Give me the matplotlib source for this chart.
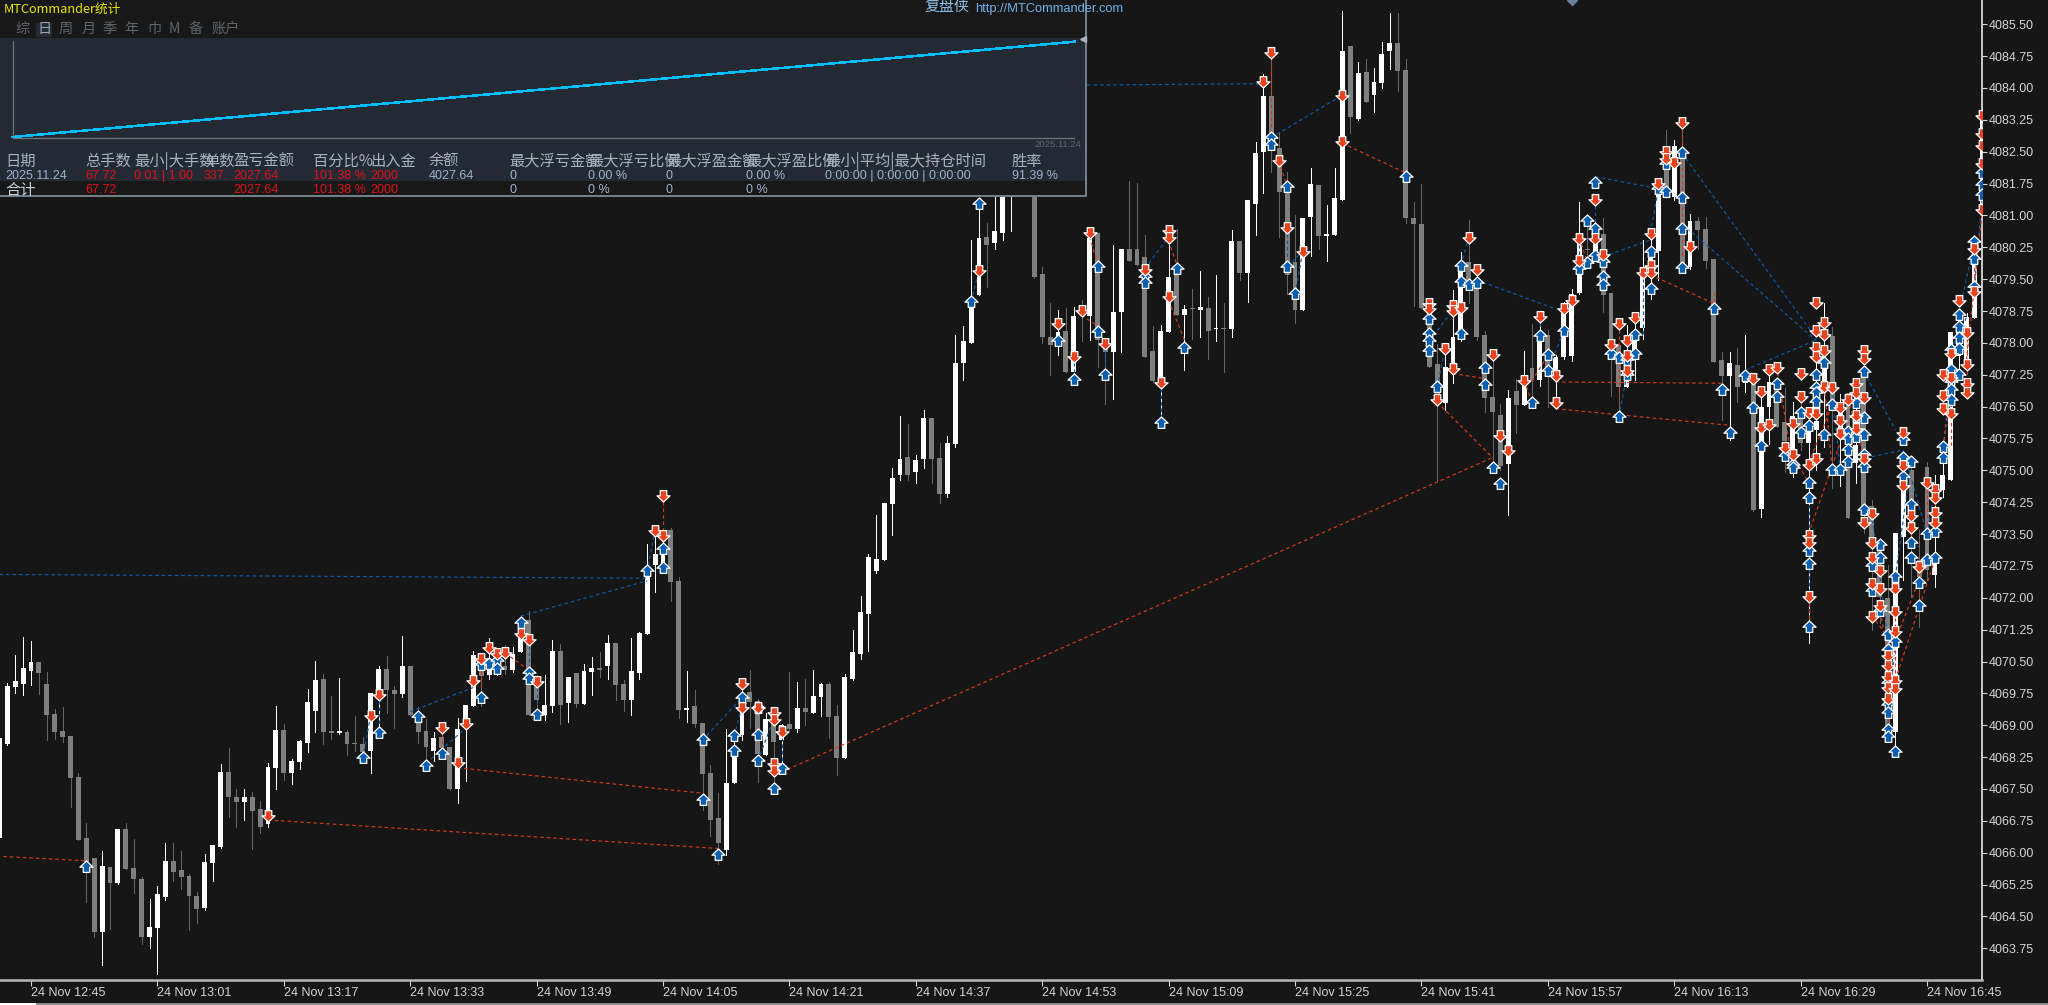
import matplotlib
matplotlib.use("Agg")
import matplotlib.pyplot as plt
from matplotlib.path import Path
from matplotlib.patches import Rectangle

# prices are stored above this base
base = 4000
first_bar = -4

opens = [66.34,68.57,69.89,69.97,70.28,70.48,69.97,69.27,68.87,68.75,
67.79,66.35,65.87,64.14,65.67,65.28,66.56,65.64,65.39,64.02,
64.23,64.95,65.80,65.59,65.46,64.99,64.69,65.76,66.14,67.89,
67.32,67.20,67.32,67.04,66.67,68.00,68.89,67.88,68.13,68.59,
69.34,70.08,68.86,68.81,68.84,68.57,68.57,68.39,69.63,70.32,
69.83,69.74,70.40,69.20,68.87,68.40,68.72,68.48,67.50,69.00,
69.45,70.30,70.18,70.34,70.39,70.30,70.73,71.47,70.06,69.24,
69.45,70.75,69.53,70.22,69.50,70.25,70.32,70.39,70.94,69.97,
69.59,70.24,71.15,72.77,72.77,73.60,72.40,69.36,69.45,69.06,
67.88,66.81,66.06,67.63,68.77,69.79,69.58,68.30,69.12,68.65,
69.03,68.90,69.41,69.30,69.67,69.97,69.22,68.22,70.09,70.68,
71.63,72.64,72.89,74.20,74.90,75.31,74.95,75.27,76.23,75.29,
74.44,75.63,77.52,78.00,79.13,80.50,80.34,80.58,81.44,81.60,
82.30,81.90,79.61,78.14,77.99,78.28,77.32,78.77,78.64,80.58,
77.99,77.79,78.72,80.22,80.22,80.03,77.81,77.08,78.26,79.60,
78.65,78.81,78.77,78.83,78.32,78.36,78.32,80.40,79.64,81.28,
82.50,83.82,82.58,81.56,79.91,78.77,80.97,81.72,80.52,80.54,
81.36,84.99,83.28,84.37,83.83,84.12,84.87,85.05,84.42,80.93,
80.79,78.77,77.51,76.59,77.44,78.10,79.91,79.44,78.18,76.73,
76.30,75.15,76.87,76.53,77.40,77.12,78.18,77.36,77.66,77.69,
79.18,80.22,80.10,80.57,79.18,77.95,76.96,77.67,78.36,79.79,
80.16,82.54,81.44,82.46,79.79,80.87,80.68,79.97,77.60,77.22,
77.48,77.05,77.09,74.10,76.48,76.97,76.13,75.40,76.23,75.64,
75.95,77.05,78.15,76.00,76.81,75.17,77.36,74.15,73.13,72.00,
68.85,73.44,75.01,72.90,75.09,72.54,74.54,74.77,77.70,77.60,
78.58,81.10]
highs = [68.75,69.99,70.65,71.07,70.99,70.48,70.25,69.38,69.42,68.75,
67.88,66.71,65.87,66.04,65.67,66.56,66.71,66.32,65.43,64.90,
65.22,66.24,66.24,66.04,65.50,65.08,65.98,66.18,68.09,68.46,
67.49,67.50,67.44,67.22,68.10,69.45,69.03,68.20,68.65,69.85,
70.51,70.20,69.69,70.11,68.89,69.22,68.72,69.75,70.40,70.64,
69.92,71.10,70.40,69.44,69.14,68.83,69.05,68.48,69.17,69.48,
70.75,70.69,71.06,70.81,70.88,70.83,71.49,71.69,70.18,70.18,
71.00,70.91,70.13,70.24,70.43,70.60,70.73,71.12,70.94,70.06,
71.06,71.20,73.27,73.71,73.60,73.64,72.48,70.28,69.83,69.06,
68.06,67.41,68.90,68.81,70.06,70.30,69.61,69.28,69.28,69.04,
70.26,70.02,70.09,70.30,69.99,70.02,69.47,70.20,71.24,72.04,
73.03,73.95,74.24,75.05,76.27,76.08,75.36,76.42,76.23,75.64,
75.80,78.18,78.40,80.42,81.40,80.83,81.44,81.46,81.60,82.50,
82.80,82.20,79.79,78.93,78.77,78.81,78.85,79.01,80.69,80.58,
78.07,80.30,80.22,81.82,81.76,80.54,78.40,78.42,80.70,80.67,
78.89,79.26,79.70,79.09,79.60,78.95,80.66,80.40,81.36,82.73,
84.34,84.89,82.93,82.03,81.01,80.93,82.11,81.72,81.24,82.11,
85.80,84.99,84.60,84.67,84.46,85.07,85.77,85.77,84.67,81.31,
81.73,79.04,77.98,77.90,79.24,80.14,80.89,79.79,78.27,77.73,
76.56,76.89,77.16,77.80,78.44,78.49,78.30,77.71,78.97,79.26,
81.32,81.00,80.89,80.95,79.18,77.95,78.42,78.69,80.43,80.65,
81.79,83.02,82.77,83.28,81.03,80.97,80.97,79.97,77.79,77.79,
77.89,78.18,77.24,76.97,77.48,77.13,76.93,76.62,76.62,76.15,
77.83,78.93,78.38,76.80,76.81,76.70,77.36,74.30,73.28,72.77,
73.52,75.30,75.25,73.60,75.20,74.90,75.56,78.26,78.60,78.70,
80.50,83.50]
lows = [66.30,68.53,69.77,69.71,69.95,69.74,68.65,68.67,68.61,67.08,
66.30,64.85,64.02,63.35,64.20,65.26,65.62,65.04,63.85,63.76,
63.14,64.88,65.34,65.15,64.18,64.35,64.65,65.34,66.12,66.83,
66.60,66.78,66.08,66.47,66.60,67.51,67.71,67.62,67.97,68.38,
68.83,68.57,68.67,68.79,68.30,68.40,68.18,67.88,68.89,69.30,
68.94,69.67,69.24,68.59,68.18,68.16,68.26,67.48,67.18,67.69,
69.45,69.45,70.08,70.18,70.20,70.26,70.73,69.24,69.12,69.12,
69.31,69.04,69.08,69.42,69.50,69.71,70.13,70.10,69.59,69.34,
69.24,70.08,71.15,72.14,72.58,71.92,69.18,69.08,68.95,67.00,
66.39,65.73,65.94,67.63,68.65,68.93,67.67,68.30,67.63,68.02,
68.88,68.85,69.00,69.28,69.22,68.71,67.83,68.22,70.06,70.57,
70.75,72.58,72.89,73.48,74.77,74.77,74.71,75.05,74.70,74.22,
74.37,75.55,77.12,77.99,79.13,79.32,80.20,80.42,80.64,81.50,
81.70,79.52,78.00,77.24,77.71,77.32,77.12,78.05,78.07,77.44,
76.57,76.68,77.79,79.93,79.83,77.67,77.08,76.14,78.26,78.65,
77.36,78.10,78.13,77.63,78.05,77.32,78.13,79.48,78.97,80.55,
81.52,82.03,80.50,79.16,78.47,78.77,80.04,80.20,79.93,80.54,
81.36,82.93,83.24,83.68,83.44,83.99,84.45,83.93,80.83,78.87,
78.81,77.44,74.75,76.41,77.06,78.05,78.93,78.06,76.38,75.20,
75.00,73.95,75.89,76.53,76.53,76.98,76.48,76.48,77.61,77.58,
79.16,79.79,79.95,78.73,76.74,76.30,76.96,77.12,78.10,79.04,
79.49,81.40,81.36,79.67,79.73,80.22,79.76,77.56,76.18,75.71,
76.62,76.85,74.05,73.91,75.62,76.01,74.97,74.84,75.48,70.94,
75.01,75.56,74.58,74.62,73.87,74.71,73.52,71.25,71.40,68.70,
68.50,72.42,72.03,71.32,72.42,72.26,74.38,74.77,77.20,77.44,
78.58,81.00]
closes = [68.69,69.92,70.04,70.34,70.48,70.22,69.24,68.83,68.72,67.77,
66.31,65.79,64.14,65.69,65.28,66.56,65.62,65.37,64.02,64.24,
65.02,65.80,65.55,65.43,64.98,64.67,65.78,66.18,67.89,67.32,
67.20,67.32,66.99,66.61,68.02,68.89,67.88,68.16,68.62,69.55,
70.06,68.83,68.81,68.86,68.56,68.55,68.38,69.75,70.32,69.83,
69.74,70.40,69.24,68.83,68.48,68.71,68.46,67.49,68.92,69.48,
70.66,70.15,70.53,70.57,70.30,70.67,71.40,69.24,69.59,69.47,
70.75,69.47,70.13,69.50,70.27,70.34,70.30,70.94,69.95,69.59,
70.27,71.18,72.58,73.03,73.12,72.36,69.36,69.40,69.04,67.85,
66.78,66.22,67.65,68.26,69.44,69.55,68.32,69.14,68.61,69.00,
68.90,69.41,69.32,69.69,69.97,69.20,68.22,70.13,70.73,71.66,
72.97,72.91,74.22,74.82,75.27,74.90,75.24,76.23,75.27,74.44,
75.65,77.52,78.05,78.85,80.48,80.30,80.63,81.44,81.50,82.30,
81.90,79.56,78.13,77.95,78.26,77.32,78.63,78.69,80.48,78.07,
77.79,78.72,80.20,79.93,79.83,77.67,77.11,78.28,79.54,78.65,
78.79,78.79,78.85,78.29,78.36,78.32,80.40,79.64,81.36,82.47,
83.82,82.62,81.54,79.59,78.77,80.93,81.73,80.52,80.55,81.40,
84.88,83.32,84.36,83.68,84.13,84.79,85.05,84.41,80.93,80.79,
78.83,77.44,76.61,77.44,78.14,79.71,79.24,78.14,76.71,76.38,
75.10,76.71,76.53,77.12,77.12,78.06,77.32,77.67,78.81,79.16,
80.34,80.18,80.65,79.12,77.75,76.96,77.47,78.22,79.71,80.10,
81.63,81.52,82.63,79.79,80.87,80.65,79.93,77.56,77.22,77.52,
76.95,77.24,74.06,76.50,77.09,76.01,75.68,76.28,75.64,75.91,
76.15,77.44,76.62,76.40,73.87,75.60,73.99,73.28,72.03,68.90,
73.52,74.54,73.68,72.50,72.66,72.81,74.89,78.26,78.30,78.62,
80.40,83.40]

buy_bars = [7,42,44,49,50,52,57,57,58,59,59,62,63,63,64,78,80,80,85,85,87,89,89,90,92,92,92,94,95,
120,119,130,132,135,135,136,141,141,143,145,146,159,159,160,157,157,
174,177,177,177,177,178,181,181,181,182,183,184,184,185,186,190,191,192,192,194,196,197,197,198,198,198,
199,199,199,200,201,201,202,202,203,203,205,205,206,207,207,209,209,209,209,
213,214,215,217,218,219,221,221,222,223,223,224,224,225,225,225,226,226,226,226,227,227,228,228,229,
230,230,230,230,231,231,231,232,232,232,232,232,232,234,237,237,237,238,238,238,240,241,242,242,
243,243,243,243,243,244,244,244,244,244,246,246,246,247,247,247,
225,225,225,233,233,234,234,235,235,235,235,235,235,235,236,236,236,238,239,239,240,241]
buy_prices = [65.67,68.24,68.81,69.20,68.03,68.32,69.65,70.41,70.44,70.52,70.32,71.40,70.22,70.10,69.24,72.64,73.15,72.69,68.65,67.24,65.94,68.75,68.39,69.65,68.77,68.16,69.40,67.50,67.96,
81.28,78.97,78.05,77.12,79.79,78.26,77.24,79.56,79.40,76.12,79.74,77.89,81.66,79.79,79.15,82.83,82.66,
81.91,78.56,78.20,78.05,77.80,76.96,79.81,79.44,78.22,79.36,79.40,77.40,77.00,75.05,74.67,76.59,78.16,77.71,77.33,78.27,79.75,80.87,79.89,81.77,80.67,80.04,
79.91,79.55,79.36,77.73,77.65,76.26,77.59,77.24,78.18,77.73,80.14,79.26,81.63,82.21,81.56,82.46,81.40,80.69,79.77,
78.79,76.89,75.89,77.22,76.46,75.57,77.03,76.72,75.34,75.12,75.05,76.34,75.87,76.04,74.71,74.34,77.24,76.93,76.81,76.62,77.52,75.83,76.54,75.01,75.01,
75.91,75.73,75.48,75.20,76.58,76.26,75.79,77.32,76.22,75.83,75.36,75.08,74.06,73.24,75.71,75.28,74.85,75.20,74.18,73.28,73.50,73.55,75.56,75.28,
77.83,77.36,77.09,76.89,76.65,78.66,78.38,78.11,77.85,77.24,80.38,79.97,79.32,82.00,81.72,81.48,
73.09,72.80,71.32,72.74,72.15,72.93,71.68,71.13,70.77,69.99,69.48,69.28,68.89,68.73,72.50,70.97,68.38,72.93,72.35,71.80,72.89,72.93]

sell_bars = [30,43,44,52,54,55,56,57,58,59,60,62,63,64,79,80,80,90,90,92,94,94,95,94,94,
120,130,133,132,134,136,141,143,144,144,144,158,159,161,156,157,166,166,
177,177,178,179,180,180,180,181,182,183,185,186,187,189,191,193,193,194,195,196,196,198,198,199,200,201,202,202,202,203,204,205,205,205,206,207,207,208,209,210,
218,219,219,220,220,221,222,223,223,224,224,225,225,225,225,226,226,226,226,226,227,227,227,227,226,228,229,229,229,230,231,231,231,231,232,232,232,232,232,233,233,237,237,237,238,238,240,241,241,241,241,242,242,242,243,243,243,244,245,245,245,245,246,246,247,247,247,247,247,
225,233,233,233,234,234,234,235,235,235,235,235,236,236,236,236,236,239]
sell_prices = [66.89,69.24,69.73,68.97,68.14,69.05,70.06,70.59,70.83,70.71,70.73,71.18,71.04,70.05,73.60,74.42,73.48,70.00,69.44,69.44,69.32,69.14,68.87,68.12,67.94,
79.71,78.46,78.77,77.69,80.62,78.00,79.75,77.08,80.66,80.50,79.10,82.30,80.72,80.17,84.17,84.84,83.83,82.75,
78.93,78.81,76.69,77.87,78.89,78.77,77.40,78.85,80.50,79.75,77.73,75.84,75.47,77.12,78.63,77.24,76.61,78.83,79.00,80.48,79.95,81.38,80.46,80.10,77.98,78.46,78.06,77.71,77.36,78.61,79.67,80.59,79.83,79.67,81.77,82.52,82.34,82.25,83.20,80.28,
77.17,76.87,76.01,77.38,76.09,77.44,75.54,76.11,75.38,77.28,76.75,76.38,75.16,73.48,73.32,78.97,78.30,77.91,77.68,76.36,78.50,78.22,77.83,76.98,75.28,76.95,76.50,76.18,75.87,76.69,77.05,76.85,76.30,75.99,77.83,77.64,76.72,75.30,73.79,73.99,73.32,75.91,75.12,74.65,73.95,73.67,74.73,74.57,74.38,74.03,73.79,77.27,76.77,76.46,77.75,77.20,76.36,79.01,78.26,77.50,77.05,76.85,80.23,79.21,83.37,82.93,82.66,82.23,81.15,
72.05,72.97,72.35,71.58,72.66,72.23,71.83,70.66,70.42,70.15,69.91,69.65,72.23,71.68,71.21,70.07,69.87,72.74]

# bar0, price0, bar1, price1
blue_links = [(-4,72.55,78,72.46),(62,71.57,78,72.40),(100,84.02,156,84.10),(157,82.83,166,83.83),
(183,79.48,194,78.73),(198,81.91,206,81.63),(199,80.03,205,80.42),(209,82.46,226,78.10),(209,80.80,226,78.05),
(217,77.36,226,78.07),(232,77.32,236,75.95),(233,75.32,237,75.48),(237,75.48,240,73.50),(42,68.24,43,69.24),
(44,69.73,44,68.81),(48,69.32,56,69.89),(50,68.10,55,68.93),(79,73.60,78,72.64),(85,68.65,90,69.65),
(89,68.75,90,69.44),(92,68.16,94,69.14),(95,68.87,95,67.96),(64,70.05,64,69.24),(63,71.04,63,70.22),
(119,78.97,120,79.71),(143,77.08,143,76.12),(136,78.00,136,77.24),(132,77.69,132,77.12),(141,79.75,144,80.50),
(159,79.79,161,80.17),(159,80.72,159,79.79),(160,79.15,161,80.17),(182,80.50,181,79.81),(178,76.96,179,77.87),
(177,78.05,180,78.77),(191,78.63,191,78.16),(192,77.33,194,78.27),(196,80.48,196,79.75),(198,81.38,198,80.67),
(201,76.26,202,77.24),(204,79.67,204,78.20),(205,80.59,206,81.63),(207,82.21,208,82.25),(225,74.34,225,71.32),
(236,72.50,238,75.20),(238,73.28,239,73.20),(240,73.50,241,74.60),(243,77.83,245,78.60),(246,79.32,247,81.48),
(242,75.56,243,76.65),(244,78.66,246,80.38),(235,68.89,236,71.0),(233,73.99,235,71.13),(229,75.01,228,76.95)]
red_links = [(-3.5,65.91,7,65.81),(30,66.77,87,66.10),(54,68.00,85,67.40),(95,67.90,185,75.30),(166,82.70,174,82.00),
(178,76.60,185,75.30),(180,77.28,184,77.16),(193,77.08,214,77.05),(193,76.45,215,76.06),(205,79.60,213,78.93),
(134,80.50,135,79.87),(133,78.65,135,78.40),(144,80.40,145,79.87),(144,79.00,146,78.07),(60,70.70,63,70.30),
(225,73.50,229,75.64),(236,70.07,241,72.90),(236,71.00,240,72.89),(245,77.60,247,81.10),(242,75.40,243,77.20),
(80,74.42,80,73.48),(157,84.84,157,82.83),(158,82.30,159,81.66),(52,68.97,52,68.32),(57,70.59,57,69.65),
(209,83.20,209,80.00),(201,78.46,201,76.60),(225,72.05,225,71.32),(225,73.30,225,72.80),(190,77.10,192,77.71),
(189,77.12,190,76.59),(196,80.48,197,79.89),(233,71.58,235,71.10),(238,73.95,238,73.28),(239,72.74,239,71.80),
(230,76.69,232,75.30),(227,76.98,228,75.01),(221,77.44,223,75.12),(223,75.38,225,74.71),(225,75.16,228,76.54),
(234,71.83,235,70.66),(235,69.65,235,68.90),(236,71.68,236,70.07),(240,74.73,240,73.50),(241,74.57,241,73.55),
(243,77.20,243,75.60),(246,80.23,246,79.21),(245,78.26,245,77.05),(213,79.20,213,78.79)]

price_ticks = [4063.75,4064.50,4065.25,4066.00,4066.75,4067.50,4068.25,4069.00,4069.75,4070.50,
4071.25,4072.00,4072.75,4073.50,4074.25,4075.00,4075.75,4076.50,4077.25,4078.00,
4078.75,4079.50,4080.25,4081.00,4081.75,4082.50,4083.25,4084.00,4084.75,4085.50]
time_ticks = [0,16,32,48,64,80,96,112,128,144,160,176,192,208,224,240]
time_labels = ["24 Nov 12:45","24 Nov 13:01","24 Nov 13:17","24 Nov 13:33","24 Nov 13:49","24 Nov 14:05",
"24 Nov 14:21","24 Nov 14:37","24 Nov 14:53","24 Nov 15:09","24 Nov 15:25","24 Nov 15:41",
"24 Nov 15:57","24 Nov 16:13","24 Nov 16:29","24 Nov 16:45"]

equity_x = [0, 1]
equity_y = [2000, 4027.64]

# panel table
header_x = [5,85,134,204,233,313,370,429,509,588,666,746,825,1012]
headers = ["日期","总手数","最小|大手数","单数","盈亏金额","百分比%","出入金","余额","最大浮亏金额","最大浮亏比例","最大浮盈金额","最大浮盈比例","最小|平均|最大持仓时间","胜率"]
row1 = ["2025.11.24","67.72","0.01 | 1.00","337","2027.64","101.38 %","2000","4027.64","0","0.00 %","0","0.00 %","0:00:00 | 0:00:00 | 0:00:00","91.39 %"]
row2 = ["合计","67.72","","","2027.64","101.38 %","2000","","0","0 %","0","0 %","",""]
red_cols = [1,2,3,4,5,6]
tabs = ["综","日","周","月","季","年","巾","M","备","账户"]
tabs_x = [15,38,59,82,102,124,147,169,189,212]

bg = "#161616"
cjk = ["Noto Sans CJK SC", "Liberation Sans"]
plt.rcParams["font.family"] = ["Liberation Sans", "Noto Sans CJK SC"]

fig = plt.figure(figsize=(20.48, 10.05), dpi=100, facecolor=bg)
ax = fig.add_axes([0, 25/1005, 1982/2048, 980/1005], facecolor=bg)

bars = [first_bar + i for i in range(len(opens))]
for i, k in enumerate(bars):
    up = closes[i] >= opens[i]
    col = "#ffffff" if up else "#7f7f7f"
    wick = "#ffffff" if up else "#666666"
    ax.vlines(k, base + lows[i], base + highs[i], color=wick, lw=0.7, zorder=2, antialiased=False)
    ax.bar(k, max(abs(closes[i] - opens[i]), 0.04), bottom=base + min(opens[i], closes[i]),
           width=0.62, color=col, zorder=3, antialiased=False)

for links, c in ((blue_links, "#0f5aa8"), (red_links, "#d63a1c")):
    for x0, y0, x1, y1 in links:
        ax.plot([x0, x1], [base + y0, base + y1], color=c, lw=0.85, ls=(0, (3, 2.5)), zorder=4)

arrow_up = Path([(0,1),(1,0.05),(0.5,0.05),(0.5,-0.75),(-0.5,-0.75),(-0.5,0.05),(-1,0.05),(0,1)], closed=True)
arrow_down = Path([(0,-1),(1,-0.05),(0.5,-0.05),(0.5,0.75),(-0.5,0.75),(-0.5,-0.05),(-1,-0.05),(0,-1)], closed=True)
ax.plot(buy_bars, [base + p for p in buy_prices], ls="", marker=arrow_up, ms=9.4, mfc="#0b5fb0", mec="white", mew=0.9, zorder=5)
ax.plot(sell_bars, [base + p for p in sell_prices], ls="", marker=arrow_down, ms=9.4, mfc="#e8431f", mec="white", mew=0.9, zorder=5)
ax.plot([195], [4086.07], ls="", marker="D", ms=5, mfc="#66809c", mec="#66809c", zorder=5)

ax.set_xlim(-31/7.9, (1982-31)/7.9)
ax.set_ylim(4063.004, 4086.07)
for s in ("top", "left"):
    ax.spines[s].set_visible(False)
ax.spines["right"].set_color("#e8e8e8")
ax.spines["right"].set_linewidth(1.2)
ax.spines["bottom"].set_color("#b8b8b8")
ax.spines["bottom"].set_linewidth(1.8)
ax.yaxis.tick_right()
ax.set_yticks(price_ticks, ["%.2f" % p for p in price_ticks])
ax.set_xticks(time_ticks, time_labels, ha="left")
ax.tick_params(axis="y", length=3.5, width=0.8, color="#d8d8d8", labelcolor="#d4d4d4", labelsize=9, pad=1)
ax.tick_params(axis="x", length=4, width=0.8, color="#d8d8d8", labelcolor="#d4d4d4", labelsize=9, pad=1)

# overlay panel, drawn in screen pixels
ov = fig.add_axes([0, 0, 1, 1], facecolor="none", zorder=10)
ov.set_xlim(0, 2048)
ov.set_ylim(1005, 0)
ov.axis("off")
ov.add_patch(Rectangle((0, 0), 1086, 196, fc="#181818", ec="none"))
ov.add_patch(Rectangle((0, 38), 1086, 143, fc="#232a33", ec="none"))
ov.plot([0, 1086, 1086], [196, 196, 0], color="#74828f", lw=1.4)
ov.add_patch(Rectangle((36, 23), 16, 14, fc="#232a33", ec="none"))
ov.plot([12.6, 12.6, 1074], [41, 137.5, 137.5], color="#6f7478", lw=0.9)
ov.plot([1083], [39], ls="", marker="<", ms=4, color="#a8b0b8")

eq_left, eq_right, eq_top, eq_bottom = 12.6, 1074.5, 41.7, 137
ov.plot([eq_left + (eq_right - eq_left) * v for v in equity_x],
        [eq_bottom + (eq_top - eq_bottom) * (v - equity_y[0]) / (equity_y[1] - equity_y[0]) for v in equity_y],
        color="#00bfff", lw=1.1, antialiased=False)

ov.text(4, 9, "MTCommander统计", color="#e6e600", fontsize=9.2, va="center", family=cjk)
for x, t in zip(tabs_x, tabs):
    ov.text(x, 29, t, color="#5f6468" if t != "日" else "#98a4b4", fontsize=10.2, va="center", family=cjk)
ov.text(924, 7, "复盘侠", color="#8cc0ea", fontsize=10.8, va="center", family=cjk)
ov.text(975, 9, "http://MTCommander.com", color="#6fb1ea", fontsize=9.3, va="center")
ov.text(1034, 144, "2025.11.24", color="#62686e", fontsize=6.8, va="center")

for x, t in zip(header_x, headers):
    ov.text(x, 161, t, color="#a6b3c4", fontsize=11, va="center", family=cjk)
for i, (x, t) in enumerate(zip(header_x, row1)):
    ov.text(x, 176, t, color="#e0101c" if i in red_cols else "#9fb2cf", fontsize=9, va="center")
for i, (x, t) in enumerate(zip(header_x, row2)):
    c = "#e0101c" if i in red_cols else ("#c8d0d8" if i == 0 else "#9fb2cf")
    ov.text(x, 190, t, color=c, fontsize=11 if i == 0 else 9, va="center", family=cjk if i == 0 else None)

ov.add_patch(Rectangle((0, 1003), 2048, 2, fc="#8a8a8a", ec="none"))
ov.add_patch(Rectangle((0, 1003), 36, 2, fc="#ffffff", ec="none"))

fig.savefig("out.png", dpi=100, facecolor=bg)
